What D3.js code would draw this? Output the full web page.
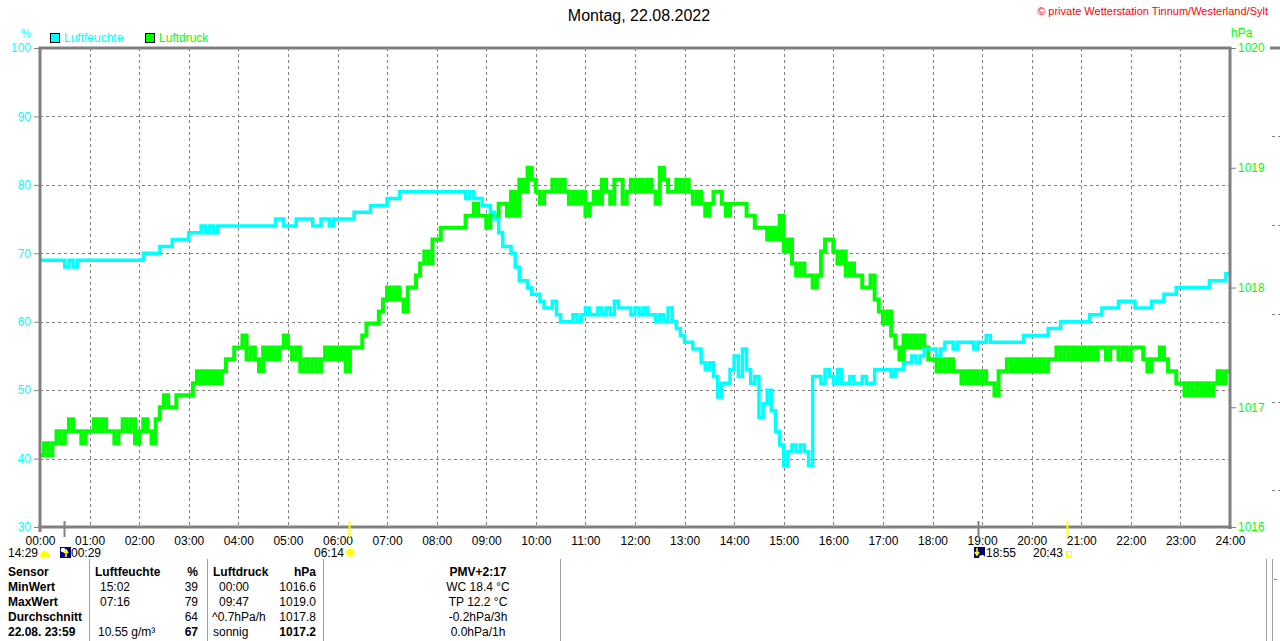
<!DOCTYPE html>
<html><head><meta charset="utf-8">
<script src="https://cdn.jsdelivr.net/npm/d3@7/dist/d3.min.js"></script>
<style>
html,body{margin:0;padding:0;background:#fff;}
svg{display:block;font-family:"Liberation Sans",Arial,sans-serif;}
</style></head>
<body>
<script>
// ---------- DATA ----------
const title = "Montag, 22.08.2022";
const credit = "© private Wetterstation Tinnum/Westerland/Sylt";
const seriesNames = ["Luftfeuchte", "Luftdruck"];
const hourLabels = ["00:00","01:00","02:00","03:00","04:00","05:00","06:00","07:00","08:00","09:00","10:00","11:00","12:00","13:00","14:00","15:00","16:00","17:00","18:00","19:00","20:00","21:00","22:00","23:00","24:00"];
const humTicks = [30,40,50,60,70,80,90,100];
const pressTicks = [1016,1017,1018,1019,1020];
const sampleMinutes = 5;   // one reading every 5 minutes from 00:00
const endMinute = 1439;    // 23:59

// relative humidity, % (5-minute readings)
const humidity = [
69,69,69,69,69,69,68,69,68,69,69,69,
69,69,69,69,69,69,69,69,69,69,69,69,
69,70,70,70,70,71,71,71,72,72,72,72,
73,73,73,74,73,74,73,74,74,74,74,74,
74,74,74,74,74,74,74,74,74,75,75,74,
74,74,75,75,75,75,74,74,75,75,74,75,
75,75,75,75,76,76,76,76,77,77,77,77,
78,78,78,79,79,79,79,79,79,79,79,79,
79,79,79,79,79,79,79,78,79,78,78,77,
77,76,75,73,71,71,70,68,66,66,65,64,
64,63,62,62,63,61,60,60,60,61,60,61,
62,61,61,62,61,62,61,63,62,62,62,61,
62,61,62,61,61,60,61,60,62,60,59,58,
57,57,56,56,54,53,54,52,49,51,51,53,
55,52,56,53,51,52,46,48,50,47,44,42,
39,41,42,41,42,41,39,52,52,51,53,52,
51,53,51,51,52,51,51,52,51,51,53,53,
53,53,52,53,53,54,54,55,54,55,56,56,
56,55,56,57,57,56,57,57,57,57,56,57,
57,58,57,57,57,57,57,57,57,57,58,58,
58,58,58,58,59,59,59,60,60,60,60,60,
60,60,61,61,61,62,62,62,62,63,63,63,
63,62,62,62,62,63,63,63,64,64,64,65,
65,65,65,65,65,65,65,66,66,66,66,67
];

// air pressure, hPa (5-minute readings)
const pressure = [
1016.6,1016.7,1016.6,1016.7,1016.8,1016.7,1016.8,1016.9,1016.8,1016.8,1016.7,1016.8,
1016.8,1016.9,1016.8,1016.9,1016.8,1016.8,1016.7,1016.8,1016.9,1016.8,1016.9,1016.7,
1016.8,1016.9,1016.8,1016.7,1016.9,1017.0,1017.1,1017.0,1017.0,1017.1,1017.1,1017.1,
1017.1,1017.2,1017.3,1017.2,1017.3,1017.2,1017.3,1017.2,1017.3,1017.4,1017.4,1017.5,
1017.5,1017.6,1017.4,1017.5,1017.4,1017.3,1017.5,1017.4,1017.5,1017.4,1017.5,1017.6,
1017.5,1017.4,1017.5,1017.3,1017.4,1017.3,1017.4,1017.3,1017.4,1017.5,1017.4,1017.5,
1017.4,1017.5,1017.3,1017.5,1017.5,1017.5,1017.6,1017.7,1017.7,1017.7,1017.8,1017.9,
1018.0,1017.9,1018.0,1017.9,1017.8,1018.0,1018.0,1018.1,1018.2,1018.3,1018.2,1018.4,
1018.4,1018.5,1018.5,1018.5,1018.5,1018.5,1018.5,1018.6,1018.6,1018.7,1018.6,1018.6,
1018.5,1018.6,1018.6,1018.7,1018.7,1018.6,1018.8,1018.6,1018.9,1018.8,1019.0,1018.9,
1018.8,1018.7,1018.8,1018.8,1018.9,1018.8,1018.9,1018.8,1018.7,1018.8,1018.7,1018.8,
1018.6,1018.7,1018.8,1018.7,1018.9,1018.8,1018.7,1018.9,1018.9,1018.7,1018.8,1018.9,
1018.8,1018.9,1018.8,1018.9,1018.8,1018.7,1019.0,1018.9,1018.8,1018.8,1018.9,1018.8,
1018.9,1018.8,1018.7,1018.8,1018.7,1018.6,1018.7,1018.8,1018.8,1018.7,1018.6,1018.7,
1018.7,1018.7,1018.7,1018.6,1018.6,1018.5,1018.5,1018.5,1018.4,1018.5,1018.4,1018.6,
1018.3,1018.4,1018.2,1018.1,1018.2,1018.1,1018.1,1018.0,1018.1,1018.3,1018.4,1018.4,
1018.3,1018.2,1018.3,1018.1,1018.2,1018.1,1018.1,1018.0,1018.0,1018.1,1017.9,1017.8,
1017.7,1017.8,1017.6,1017.5,1017.4,1017.6,1017.5,1017.6,1017.5,1017.6,1017.5,1017.4,
1017.4,1017.3,1017.4,1017.3,1017.4,1017.3,1017.3,1017.2,1017.3,1017.2,1017.3,1017.2,
1017.3,1017.2,1017.2,1017.1,1017.3,1017.3,1017.4,1017.3,1017.4,1017.3,1017.4,1017.3,
1017.4,1017.3,1017.4,1017.3,1017.4,1017.4,1017.5,1017.4,1017.5,1017.4,1017.5,1017.4,
1017.5,1017.4,1017.5,1017.4,1017.5,1017.5,1017.4,1017.5,1017.5,1017.4,1017.5,1017.4,
1017.5,1017.5,1017.5,1017.4,1017.3,1017.4,1017.4,1017.5,1017.4,1017.3,1017.3,1017.2,
1017.2,1017.1,1017.2,1017.1,1017.2,1017.1,1017.2,1017.1,1017.2,1017.3,1017.2,1017.3
];

// astronomical events below the time axis
const eventTimes  = ["00:29","06:14","18:55","20:43"];
const eventKinds  = ["moonrise","sunrise","sunset","moonset"];
const prevEvent   = "14:29";

// statistics table
const tableRows = ["Sensor","MinWert","MaxWert","Durchschnitt","22.08. 23:59"];
const humTimes  = ["Luftfeuchte","15:02","07:16","","10.55 g/m³"];
const humVals   = ["%","39","79","64","67"];
const presTimes = ["Luftdruck","00:00","09:47","^0.7hPa/h","sonnig"];
const presVals  = ["hPa","1016.6","1019.0","1017.8","1017.2"];
const extraCol  = ["PMV+2:17","WC 18.4 °C","TP 12.2 °C","-0.2hPa/3h","0.0hPa/1h"];

// ---------- DRAW ----------
const W = 1280, H = 641;
const L = 40, R = 1230, T = 48, B = 527;
const CYAN = "#00ffff", GREEN = "#00ff00", GRAY = "#808080";
const toMin = s => { const [h,m] = s.split(":").map(Number); return h*60+m; };

const svg = d3.select("body").append("svg").attr("width", W).attr("height", H);

const x = d3.scaleLinear().domain([0, 1440]).range([L, R]);
const yH = d3.scaleLinear().domain([30, 100]).range([B, T]);
const yP = d3.scaleLinear().domain([1016, 1020]).range([B, T]);

// title + credit
svg.append("text").attr("x", 639).attr("y", 21).attr("text-anchor","middle")
  .attr("font-size", 16).attr("fill","#000").text(title);
svg.append("text").attr("x", 1268).attr("y", 15).attr("text-anchor","end")
  .attr("font-size", 11).attr("fill","#ff0000").text(credit);

// unit labels
svg.append("text").attr("x", 26).attr("y", 37).attr("text-anchor","middle")
  .attr("font-size", 11).attr("fill", CYAN).text("%");
svg.append("text").attr("x", 1231).attr("y", 37)
  .attr("font-size", 12).attr("fill", GREEN).text("hPa");

// legend
const leg = [[50, CYAN, seriesNames[0]], [145, GREEN, seriesNames[1]]];
leg.forEach(([lx, c, name]) => {
  svg.append("rect").attr("x", lx+0.5).attr("y", 33.5).attr("width", 9).attr("height", 9)
    .attr("fill", c).attr("stroke", "#000").attr("stroke-width", 1);
  svg.append("text").attr("x", lx+14).attr("y", 42).attr("font-size", 12).attr("fill", c).text(name);
});

// grid
const grid = svg.append("g").attr("stroke", GRAY).attr("stroke-width", 1).attr("stroke-dasharray", "3,3");
d3.range(1, 24).forEach(h => {
  grid.append("line").attr("x1", Math.round(x(h*60))+0.5).attr("x2", Math.round(x(h*60))+0.5)
    .attr("y1", T).attr("y2", B);
});
humTicks.slice(1, -1).forEach(v => {
  grid.append("line").attr("x1", L).attr("x2", R)
    .attr("y1", Math.round(yH(v))+0.5).attr("y2", Math.round(yH(v))+0.5);
});

// series
const humData = humidity.map((v, i) => ({t: i*sampleMinutes, v}));
humData.push({t: endMinute, v: humidity[humidity.length-1]});
const presData = pressure.map((v, i) => ({t: i*sampleMinutes, v}));
presData.push({t: endMinute, v: pressure[pressure.length-1]});

const lineP = d3.line().x(d => x(d.t)).y(d => yP(d.v)).curve(d3.curveStepAfter);
const lineH = d3.line().x(d => x(d.t)).y(d => yH(d.v)).curve(d3.curveStepAfter);
svg.append("path").datum(presData).attr("d", lineP).attr("fill","none")
  .attr("stroke", GREEN).attr("stroke-width", 4);
svg.append("path").datum(humData).attr("d", lineH).attr("fill","none")
  .attr("stroke", CYAN).attr("stroke-width", 3.5);

// frame
const fr = svg.append("g").attr("stroke", GRAY).attr("stroke-width", 3).attr("fill","none");
fr.append("line").attr("x1", L-1.5).attr("x2", R+1.5).attr("y1", T).attr("y2", T);
fr.append("line").attr("x1", L-1.5).attr("x2", R+1.5).attr("y1", B).attr("y2", B);
fr.append("line").attr("x1", L).attr("x2", L).attr("y1", T).attr("y2", B+5);
fr.append("line").attr("x1", R).attr("x2", R).attr("y1", T).attr("y2", B+2);

// left axis (humidity)
const axL = d3.axisLeft(yH).tickValues(humTicks).tickSize(5).tickPadding(3);
const gL = svg.append("g").attr("transform", `translate(${L-1},0)`).call(axL);
gL.select(".domain").remove();
gL.selectAll("line").attr("stroke", GRAY);
gL.selectAll("text").attr("fill", CYAN).attr("font-size", 12).attr("font-family","Liberation Sans, Arial, sans-serif");

// right axis (pressure)
const axR = d3.axisRight(yP).tickValues(pressTicks).tickSize(5).tickPadding(2).tickFormat(d3.format("d"));
const gR = svg.append("g").attr("transform", `translate(${R+1},0)`).call(axR);
gR.select(".domain").remove();
gR.selectAll("line").attr("stroke", GRAY);
gR.selectAll("text").attr("fill", GREEN).attr("font-size", 12).attr("font-family","Liberation Sans, Arial, sans-serif");

// bottom axis (time)
const axB = d3.axisBottom(x).tickValues(d3.range(0, 25).map(h => h*60))
  .tickSize(0).tickPadding(9).tickFormat((d, i) => hourLabels[i]);
const gB = svg.append("g").attr("transform", `translate(0,${B})`).call(axB);
gB.select(".domain").remove();
gB.selectAll("text").attr("fill", "#000").attr("font-size", 12).attr("font-family","Liberation Sans, Arial, sans-serif");

// event markers
eventTimes.forEach((t, i) => {
  const ex = Math.round(x(toMin(t))) + 0.5;
  const yellow = eventKinds[i] === "sunrise" || eventKinds[i] === "moonset";
  svg.append("line").attr("x1", ex).attr("x2", ex).attr("y1", 521).attr("y2", 537)
    .attr("stroke", yellow ? "#ffff00" : GRAY).attr("stroke-width", 2);
});

const ev = svg.append("g").attr("font-size", 12).attr("fill", "#000");
// previous moon event
ev.append("text").attr("x", 38).attr("y", 557).attr("text-anchor","end").text(prevEvent);
ev.append("path").attr("d", "M40,557 A5,6 0 0 1 50,557 Z").attr("fill", "#ffff00");
// moon / sun icons
function navyIcon(px, up) {
  const g = svg.append("g");
  g.append("rect").attr("x", px).attr("y", 547).attr("width", 11).attr("height", 11).attr("fill", "#000080");
  if (up) {
    g.append("circle").attr("cx", px+3).attr("cy", 550).attr("r", 2.3).attr("fill", "#fff");
    g.append("path").attr("d", `M${px+6},557 L${px+6},551 M${px+4},553 L${px+6},550 L${px+8},553`)
      .attr("stroke", "#ffff00").attr("stroke-width", 1.6).attr("fill","none");
  } else {
    g.append("path").attr("d", `M${px+5},558 A3,3 0 0 1 ${px+11},558 Z`).attr("fill", "#fff");
    g.append("path").attr("d", `M${px+3},548 L${px+3},554 M${px+1},552 L${px+3},555 L${px+5},552`)
      .attr("stroke", "#ffff00").attr("stroke-width", 1.6).attr("fill","none");
  }
}
navyIcon(60, true);
ev.append("text").attr("x", 71).attr("y", 557).text(eventTimes[0]);
// sunrise
ev.append("text").attr("x", 344).attr("y", 557).attr("text-anchor","end").text(eventTimes[1]);
svg.append("circle").attr("cx", 350).attr("cy", 552.5).attr("r", 5).attr("fill", "#ffffa0");
svg.append("circle").attr("cx", 350).attr("cy", 552.5).attr("r", 3.5).attr("fill", "#ffff00");
// sunset
navyIcon(974, false);
ev.append("text").attr("x", 986).attr("y", 557).text(eventTimes[2]);
// moonset
ev.append("text").attr("x", 1063).attr("y", 557).attr("text-anchor","end").text(eventTimes[3]);
svg.append("rect").attr("x", 1066.5).attr("y", 551.5).attr("width", 5).attr("height", 5)
  .attr("fill", "none").attr("stroke", "#ffff00").attr("stroke-width", 1);

// statistics table
const tg = svg.append("g").attr("font-size", 12).attr("fill", "#000");
[89, 207, 323, 560, 1266].forEach(dx => {
  tg.append("line").attr("x1", dx+0.5).attr("x2", dx+0.5).attr("y1", 559).attr("y2", H)
    .attr("stroke", "#a0a0a0").attr("stroke-width", 1);
});
const rowY = [576, 591, 606, 621, 636];
tableRows.forEach((r, i) => {
  const y = rowY[i];
  tg.append("text").attr("x", 8).attr("y", y).attr("font-weight", "bold").text(r);
  tg.append("text").attr("x", i === 0 ? 95 : (i === 4 ? 98 : 100)).attr("y", y)
    .attr("font-weight", i === 0 ? "bold" : "normal").text(humTimes[i]);
  tg.append("text").attr("x", 198).attr("y", y).attr("text-anchor","end")
    .attr("font-weight", (i === 0 || i === 4) ? "bold" : "normal").text(humVals[i]);
  tg.append("text").attr("x", i === 0 || i === 4 ? 213 : (i === 3 ? 212 : 219)).attr("y", y)
    .attr("font-weight", i === 0 ? "bold" : "normal").text(presTimes[i]);
  tg.append("text").attr("x", 316).attr("y", y).attr("text-anchor","end")
    .attr("font-weight", (i === 0 || i === 4) ? "bold" : "normal").text(presVals[i]);
  tg.append("text").attr("x", 478).attr("y", y).attr("text-anchor","middle")
    .attr("font-weight", i === 0 ? "bold" : "normal").text(extraCol[i]);
});

// edge of the neighbouring panel (partially visible at right border)
const nb = svg.append("g").attr("stroke", GRAY);
nb.append("line").attr("x1", 1270).attr("x2", W).attr("y1", T).attr("y2", T).attr("stroke-width", 3);
[136, 225, 314, 402, 490].forEach(gy => {
  nb.append("line").attr("x1", 1272).attr("x2", W).attr("y1", gy+0.5).attr("y2", gy+0.5)
    .attr("stroke-width", 1).attr("stroke-dasharray", "3,3");
});
nb.append("line").attr("x1", 1272.5).attr("x2", 1272.5).attr("y1", 559).attr("y2", H).attr("stroke", "#a0a0a0");
nb.append("line").attr("x1", 1274).attr("x2", W).attr("y1", 579.5).attr("y2", 579.5).attr("stroke-dasharray", "3,3");
</script>
</body></html>
